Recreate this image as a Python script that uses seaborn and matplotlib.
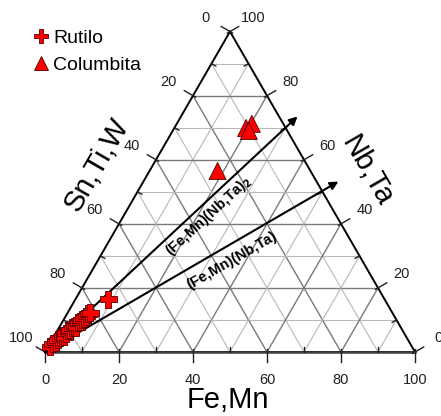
import numpy as np
import pandas as pd
import matplotlib
matplotlib.use("Agg")
import matplotlib.pyplot as plt
import seaborn as sns

# ---------------- data (percent) ----------------
# components: Fe,Mn (bottom-right apex), Nb,Ta (top apex), Sn,Ti,W = 100 - Fe - Nb (bottom-left apex)
rut_fe = [0.6, 0.9, 1.4, 1.6, 1.9, 2.1, 2.8, 2.7, 3.0, 3.3, 3.6, 3.8, 4.5, 4.4, 4.8, 5.0, 5.2, 5.5, 5.7, 6.1, 8.8]
rut_nb = [1.6, 2.5, 3.1, 3.8, 4.4, 5.0, 4.7, 5.9, 6.6, 6.9, 7.5, 8.1, 7.8, 9.1, 9.4, 10.0, 10.6, 11.2, 11.9, 12.2, 16.5]
col_fe = [18.4, 19.4, 20.3, 20.6]
col_nb = [56.5, 69.9, 71.2, 69.0]
series_names = ["Rutilo", "Columbita"]

line_labels = ["(Fe,Mn)(Nb,Ta)$_\\mathbf{2}$", "(Fe,Mn)(Nb,Ta)"]
line_tip_fe = [31.5, 52.7]
line_tip_nb = [73.5, 53.2]

tick_values = [0, 20, 40, 60, 80, 100]
axis_titles = ["Fe,Mn", "Sn,Ti,W", "Nb,Ta"]

# ---------------- helpers ----------------
S3 = np.sqrt(3) / 2
SCALE = 370.0  # pixels per unit triangle side


def tern(fe, nb):
    fe = np.asarray(fe, float) / 100
    nb = np.asarray(nb, float) / 100
    return fe + nb / 2, nb * S3


def P(px, py):
    return (px - 45) / SCALE, (352 - py) / SCALE


plt.rcParams["font.family"] = ["Liberation Sans", "DejaVu Sans"]

fig = plt.figure(figsize=(4.41, 4.16), dpi=100)
ax = fig.add_axes([0, 0, 1, 1])
x0, y0 = P(0, 416)
x1, y1 = P(441, 0)
ax.set_xlim(x0, x1)
ax.set_ylim(y0, y1)
ax.axis("off")

# ---------------- grid ----------------
for v in range(10, 100, 10):
    major = v % 20 == 0
    col = "#7a7a7a" if major else "#b8b8b8"
    lw = 1.0 if major else 0.8
    segs = [
        ((0, v), (100 - v, v)),        # constant Nb
        ((v, 0), (v, 100 - v)),        # constant Fe
        ((100 - v, 0), (0, 100 - v)),  # constant Sn
    ]
    for a, b in segs:
        xs, ys = tern([a[0], b[0]], [a[1], b[1]])
        ax.plot(xs, ys, color=col, lw=lw, zorder=1)

# border
bx, by = tern([0, 100, 0, 0], [0, 0, 100, 0])
ax.plot(bx[:3], by[:3], color="black", lw=1.4, zorder=2)
ax.plot([bx[2], bx[0]], [by[2], by[0]], color="black", lw=1.4, zorder=2)
ax.plot(bx[:2], by[:2], color="#404040", lw=1.8, zorder=2)

# ---------------- ticks ----------------
px = 1.0 / SCALE
dirs = {
    "bottom": np.array([0.0, -1.0]),
    "left": np.array([-S3, 0.5]),
    "right": np.array([S3, 0.5]),
}
for v in range(0, 101, 10):
    major = v % 20 == 0
    pts = {
        "bottom": tern(v, 0),
        "left": tern(0, 100 - v),
        "right": tern(100 - v, v),
    }
    for side, (tx, ty) in pts.items():
        d = dirs[side]
        if major:
            a = np.array([tx, ty]) - d * 3 * px
            b = np.array([tx, ty]) + d * 10 * px
        else:
            a = np.array([tx, ty]) - d * 5 * px
            b = np.array([tx, ty])
        ax.plot([a[0], b[0]], [a[1], b[1]], color="#202020", lw=1.0, zorder=2)

for v in tick_values:
    tx, ty = tern(v, 0)
    ax.text(tx, ty - 28 * px, f"{v}", ha="center", va="center", fontsize=10.5, color="#202020")
    tx, ty = tern(0, 100 - v)
    ax.text(tx - S3 * 28 * px, ty + 0.5 * 28 * px, f"{v}", ha="center", va="center",
            fontsize=10.5, color="#202020")
    tx, ty = tern(100 - v, v)
    ax.text(tx + S3 * 27 * px, ty + 0.5 * 27 * px, f"{v}", ha="center", va="center",
            fontsize=10.5, color="#202020")

# axis titles
tx, ty = P(228, 400)
ax.text(tx, ty, axis_titles[0], ha="center", va="center", fontsize=21)
tx, ty = P(97, 165)
ax.text(tx, ty, axis_titles[1], ha="center", va="center", fontsize=21, rotation=60,
        rotation_mode="anchor")
tx, ty = P(367, 171)
ax.text(tx, ty, axis_titles[2], ha="center", va="center", fontsize=21, rotation=-60,
        rotation_mode="anchor")

# ---------------- composition arrows ----------------
for lab, fe, nb, lpos, rot in zip(line_labels, line_tip_fe, line_tip_nb,
                                  [(209, 216), (232, 261)], [42.5, 30]):
    tx, ty = tern(fe, nb)
    ax.annotate("", xy=(tx, ty), xytext=(0, 0),
                arrowprops=dict(arrowstyle="-|>", color="black", lw=1.5,
                                mutation_scale=12, shrinkA=0, shrinkB=0),
                zorder=3)
    lx, ly = P(*lpos)
    ax.text(lx, ly, lab, ha="center", va="center", rotation=rot, rotation_mode="anchor",
            fontsize=10.5, fontweight="bold", zorder=4)

# ---------------- data points ----------------
rx, ry = tern(rut_fe, rut_nb)
cx, cy = tern(col_fe, col_nb)
df = pd.DataFrame({
    "x": np.concatenate([rx, cx]),
    "y": np.concatenate([ry, cy]),
    "mineral": [series_names[0]] * len(rx) + [series_names[1]] * len(cx),
})
sns.scatterplot(data=df, x="x", y="y", style="mineral",
                markers={"Rutilo": "P", "Columbita": "^"},
                color="#ff0000", edgecolor="#500000", linewidth=0.6, s=150,
                ax=ax, zorder=5, legend=True)
ax.set_xlim(x0, x1)
ax.set_ylim(y0, y1)
ax.set_xlabel("")
ax.set_ylabel("")

h, l = ax.get_legend_handles_labels()
for hh in h:
    try:
        hh.set_markersize(10)
        hh.set_markerfacecolor("#ff0000")
        hh.set_markeredgecolor("#500000")
    except Exception:
        pass
lx, ly = P(35, 29)
leg = ax.legend(h, l, loc="upper left", bbox_to_anchor=(lx, ly), bbox_transform=ax.transData,
                frameon=False, fontsize=14, handlelength=0.6, handletextpad=0.35,
                labelspacing=0.5, borderpad=0, borderaxespad=0)

fig.savefig("out.png", dpi=100)
